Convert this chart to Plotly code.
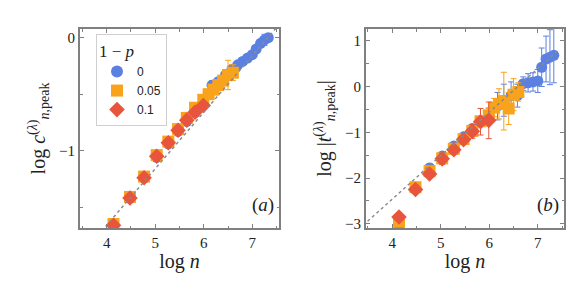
import plotly.graph_objects as go
from plotly.subplots import make_subplots

# ---------------- data ----------------
# panel (a): log c_{n,peak}^(lambda) vs log n
x_blue = [4.14, 4.48, 4.77, 5.03, 5.27, 5.47, 5.65, 5.82, 5.99, 6.17, 6.3, 6.45,
          6.58, 6.7, 6.8, 6.9, 7.0, 7.08, 7.17, 7.25, 7.33]
a_blue = [-1.66, -1.42, -1.24, -1.06, -0.94, -0.83, -0.74, -0.66, -0.57, -0.42, -0.39, -0.33,
          -0.28, -0.24, -0.21, -0.18, -0.15, -0.10, -0.05, -0.02, 0.0]
a_blue_err = [0, 0, 0, 0, 0, 0, 0, 0, 0, 0.04, 0.03, 0.03,
              0.03, 0.02, 0.02, 0.02, 0.02, 0.02, 0.03, 0.05, 0.03]

x_orange = [4.14, 4.48, 4.77, 5.03, 5.27, 5.47, 5.65, 5.82, 5.99, 6.1, 6.2, 6.3, 6.4, 6.5, 6.6]
a_orange = [-1.65, -1.41, -1.23, -1.04, -0.92, -0.81, -0.71, -0.62, -0.55, -0.50, -0.46,
            -0.42, -0.38, -0.33, -0.31]
a_orange_err = [0, 0, 0, 0, 0, 0, 0, 0, 0, 0.02, 0.02, 0.03, 0.04, 0.13, 0.07]

x_red = [4.14, 4.48, 4.77, 5.03, 5.27, 5.47, 5.65, 5.82, 5.99]
a_red = [-1.66, -1.42, -1.24, -1.05, -0.93, -0.82, -0.73, -0.66, -0.60]
a_red_err = [0, 0, 0, 0.02, 0, 0, 0.04, 0.04, 0.02]

# panel (b): log |t_{n,peak}^(lambda)| vs log n
b_blue = [-3.05, -2.2, -1.78, -1.52, -1.30, -1.10, -0.92, -0.76, -0.62, -0.43, -0.30, -0.20,
          -0.20, 0.06, 0.08, 0.10, 0.12, 0.42, 0.60, 0.64, 0.68]
b_blue_err = [0, 0, 0, 0, 0, 0, 0.05, 0.1, 0.15, 0.30, 0.35, 0.30,
              0.25, 0.15, 0.20, 0.20, 0.25, 0.42, 0.50, 0.60, 0.60]

b_orange = [-2.95, -2.2, -1.85, -1.57, -1.36, -1.15, -0.97, -0.76, -0.63, -0.46, -0.38,
            -0.32, -0.48, -0.18, -0.12]
b_orange_err = [0, 0, 0, 0, 0, 0, 0.08, 0.1, 0.15, 0.20, 0.33, 0.63, 0.35, 0.35, 0.2]

b_red = [-2.85, -2.25, -1.91, -1.58, -1.38, -1.16, -0.98, -0.77, -0.74]
b_red_err = [0, 0, 0, 0.12, 0, 0, 0.15, 0.29, 0.40]

legend_names = ["0", "0.05", "0.1"]

# reference (dashed) lines: slope and intercept
slope_a, icpt_a = 0.5, -3.66
slope_b, icpt_b = 0.95, -6.26
line_span_a = [3.9, 7.6]
line_span_b = [3.4, 7.42]

# ---------------- styling ----------------
C_BLUE = "#5b80e2"
C_ORANGE = "#f9a21b"
C_RED = "#e8543c"
FRAME = "#808080"
SERIF = "Liberation Serif"
SANS = "Liberation Sans"

fig = make_subplots(rows=1, cols=2, horizontal_spacing=0.0)

def add_panel(col, ys, errs, showlegend):
    specs = [
        (x_blue, ys[0], errs[0], C_BLUE, "circle", 11, legend_names[0]),
        (x_orange, ys[1], errs[1], C_ORANGE, "square", 12, legend_names[1]),
        (x_red, ys[2], errs[2], C_RED, "diamond", 12, legend_names[2]),
    ]
    for xs, yv, ev, c, sym, sz, nm in specs:
        fig.add_trace(go.Scatter(
            x=xs, y=yv, mode="markers", name=nm, showlegend=showlegend,
            marker=dict(color=c, symbol=sym, size=sz, line=dict(width=0)),
            error_y=dict(type="data", array=ev, visible=True, color=c,
                         thickness=1, width=3),
        ), row=1, col=col)

add_panel(1, [a_blue, a_orange, a_red], [a_blue_err, a_orange_err, a_red_err], True)
add_panel(2, [b_blue, b_orange, b_red], [b_blue_err, b_orange_err, b_red_err], False)

fig.add_trace(go.Scatter(
    x=line_span_a, y=[slope_a * v + icpt_a for v in line_span_a], mode="lines",
    line=dict(color="#8a8a8a", dash="3px,3px", width=1.5), showlegend=False,
    hoverinfo="skip"), row=1, col=1)
fig.add_trace(go.Scatter(
    x=line_span_b, y=[slope_b * v + icpt_b for v in line_span_b], mode="lines",
    line=dict(color="#8a8a8a", dash="3px,3px", width=1.5), showlegend=False,
    hoverinfo="skip"), row=1, col=2)

W, H = 581, 290
ml, mr, mt, mb = 80, 17, 29, 62
pw = W - ml - mr
dom_a = [0.0, (279 - ml) / pw]
dom_b = [(366 - ml) / pw, 1.0]

axis_common = dict(
    automargin=False,
    showline=True, linecolor=FRAME, linewidth=2, mirror="allticks",
    ticks="inside", ticklen=4, tickwidth=1, tickcolor=FRAME,
    showgrid=False, zeroline=False,
    tickfont=dict(family=SERIF, size=15, color="#222"),
    minor=dict(ticks="inside", ticklen=2.5, tickwidth=1, tickcolor=FRAME, dtick=0.5,
               showgrid=False),
)

fig.update_xaxes(**axis_common)
fig.update_yaxes(**axis_common)

xtitle = dict(text="log <i>n</i>", font=dict(family=SERIF, size=20, color="#222"), standoff=4)
fig.update_xaxes(domain=dom_a, range=[3.45, 7.55], dtick=1, tick0=0, title=xtitle, row=1, col=1)
fig.update_xaxes(domain=dom_b, range=[3.46, 7.54], dtick=1, tick0=0, title=xtitle, row=1, col=2)
fig.update_yaxes(range=[-1.685, 0.077], dtick=1, tick0=0, row=1, col=1,
                 title=dict(text="log <i>c</i><sup>(<i>λ</i>)</sup><sub><i>n</i>,peak</sub>",
                            font=dict(family=SERIF, size=20, color="#222"), standoff=8))
fig.update_yaxes(range=[-3.09, 1.255], dtick=1, tick0=0, row=1, col=2,
                 title=dict(text="log |<i>t</i><sup>(<i>λ</i>)</sup><sub><i>n</i>,peak</sub>|",
                            font=dict(family=SERIF, size=20, color="#222"), standoff=8))

fig.add_annotation(xref="x domain", yref="y domain", x=0.985, y=0.05, xanchor="right",
                   yanchor="bottom", text="(<i>a</i>)", showarrow=False,
                   font=dict(family=SERIF, size=19, color="#222"))
fig.add_annotation(xref="x2 domain", yref="y2 domain", x=0.985, y=0.05, xanchor="right",
                   yanchor="bottom", text="(<i>b</i>)", showarrow=False,
                   font=dict(family=SERIF, size=19, color="#222"))

fig.update_layout(
    width=W, height=H, margin=dict(l=ml, r=mr, t=mt, b=mb),
    paper_bgcolor="white", plot_bgcolor="white",
    legend=dict(
        x=(96 - ml) / pw, y=0.975, xanchor="left", yanchor="top",
        bgcolor="white", bordercolor="#cfcfcf", borderwidth=1,
        font=dict(family=SANS, size=12, color="#222"),
        title=dict(text="1 − <i>p</i>", font=dict(family=SERIF, size=17, color="#222")),
        itemsizing="constant", tracegroupgap=0, itemwidth=30,
    ),
)

fig.write_html("out.html", config={"displayModeBar": False},
               post_script="document.body.style.margin='0';document.body.style.padding='0';")
